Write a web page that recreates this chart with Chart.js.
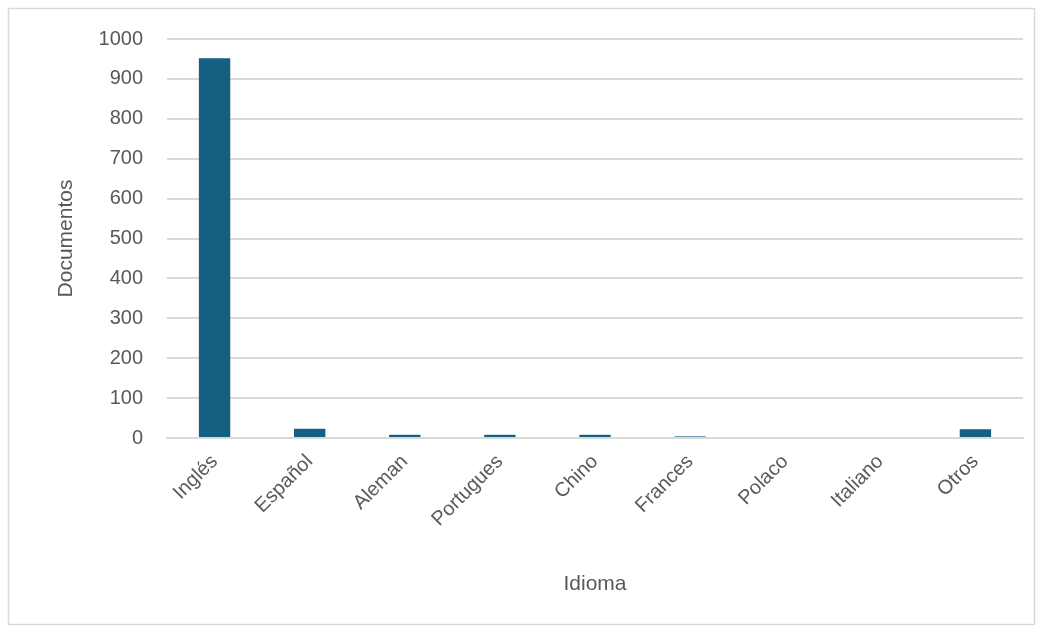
<!DOCTYPE html>
<html>
<head>
<meta charset="utf-8">
<script src="https://cdn.jsdelivr.net/npm/chart.js@4"></script>
<style>
  body { margin: 0; background: #fff; }
  #wrap { width: 1042px; height: 631px; }
</style>
</head>
<body>
<div id="wrap"><canvas id="chart" width="1042" height="631"></canvas></div>
<script>
const idiomas = ["Inglés", "Español", "Aleman", "Portugues", "Chino", "Frances", "Polaco", "Italiano", "Otros"];
const documentos = [952, 23, 8, 8, 8, 4, 0, 0, 22];

const frame = {
  id: "frame",
  beforeDraw(chart) {
    const ctx = chart.ctx;
    ctx.save();
    ctx.strokeStyle = "#d9d9d9";
    ctx.lineWidth = 1.5;
    ctx.strokeRect(8.5, 8.5, 1026, 616);
    ctx.restore();
  }
};

const ctx = document.getElementById("chart").getContext("2d");
new Chart(ctx, {
  type: "bar",
  data: {
    labels: idiomas,
    datasets: [{
      label: "Documentos",
      data: documentos,
      backgroundColor: "#156082",
      barPercentage: 0.55,
      categoryPercentage: 0.6
    }]
  },
  options: {
    responsive: false,
    animation: false,
    layout: { padding: { left: 50, right: 19, top: 39, bottom: 30 } },
    plugins: {
      legend: { display: false },
      tooltip: { enabled: false }
    },
    scales: {
      x: {
        grid: { display: false, drawTicks: false },
        border: { color: "#d9d9d9", width: 2 },
        ticks: {
          color: "#595959",
          font: { family: "Liberation Sans", size: 20 },
          maxRotation: 45,
          minRotation: 45,
          padding: 12
        },
        title: {
          display: true,
          text: "Idioma",
          color: "#595959",
          font: { family: "Liberation Sans", size: 21 },
          padding: { top: 12 }
        },
        afterFit(scale) { scale.height = 163; }
      },
      y: {
        min: 0,
        max: 1000,
        grid: { color: "#d9d9d9", lineWidth: 2, drawTicks: false },
        border: { display: false },
        ticks: {
          stepSize: 100,
          color: "#595959",
          font: { family: "Liberation Sans", size: 20 },
          padding: 24,
          callback: (v) => String(v)
        },
        title: {
          display: true,
          text: "Documentos",
          color: "#595959",
          font: { family: "Liberation Sans", size: 21 },
          padding: { bottom: 0 }
        },
        afterFit(scale) { scale.width = 117; }
      }
    }
  },
  plugins: [frame]
});
</script>
</body>
</html>
